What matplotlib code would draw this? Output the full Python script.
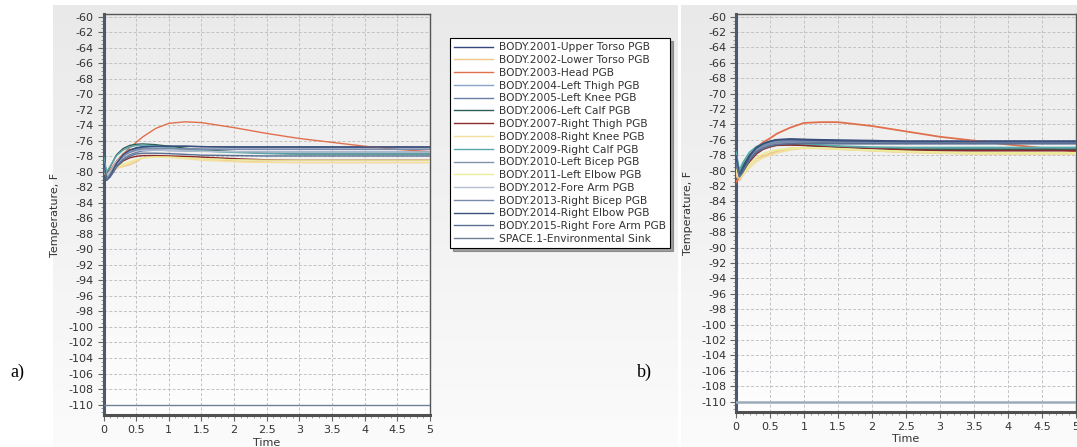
import numpy as np
import matplotlib.pyplot as plt
from matplotlib.ticker import MultipleLocator

plt.rcParams['axes.unicode_minus'] = False

# time grid
time = [0, 0.05, 0.1, 0.2, 0.3, 0.4, 0.5, 0.6, 0.8, 1.0, 1.25, 1.5, 2.0, 2.5, 3.0, 3.5, 4.0, 4.5, 5.0]

labels = ['BODY.2001-Upper Torso PGB', 'BODY.2002-Lower Torso PGB', 'BODY.2003-Head PGB',
          'BODY.2004-Left Thigh PGB', 'BODY.2005-Left Knee PGB', 'BODY.2006-Left Calf PGB',
          'BODY.2007-Right Thigh PGB', 'BODY.2008-Right Knee PGB', 'BODY.2009-Right Calf PGB',
          'BODY.2010-Left Bicep PGB', 'BODY.2011-Left Elbow PGB', 'BODY.2012-Fore Arm PGB',
          'BODY.2013-Right Bicep PGB', 'BODY.2014-Right Elbow PGB', 'BODY.2015-Right Fore Arm PGB',
          'SPACE.1-Environmental Sink']

colors = ['#34467a', '#f2c58a', '#e0704c', '#86a6c6', '#6a7fa2', '#2e5e58',
          '#8c2a2a', '#f3df9e', '#5aa8aa', '#8494ae', '#ecec9a', '#b4c0d4',
          '#7a8aaa', '#3a4f7c', '#5a6f92', '#7a8ca2']

#panel a) values
a_upper_torso = [-78.4, -80.7, -80.3, -78.8, -77.7, -77.2, -76.9, -76.75, -76.7, -76.7, -76.7, -76.75, -76.8, -76.8, -76.8, -76.8, -76.8, -76.8, -76.8]
a_lower_torso = [-79.8, -80.3, -80.0, -79.5, -79.3, -79.1, -78.7, -78.2, -78.0, -78.0, -78.1, -78.3, -78.6, -78.75, -78.8, -78.8, -78.8, -78.8, -78.8]
a_head = [-79.6, -80.5, -79.8, -78.6, -77.7, -76.9, -76.2, -75.5, -74.4, -73.75, -73.55, -73.65, -74.3, -75.05, -75.7, -76.2, -76.7, -77.1, -77.4]
a_left_thigh = [-78.8, -80.8, -80.4, -78.9, -77.9, -77.4, -77.1, -76.95, -76.9, -76.95, -77.0, -77.05, -77.1, -77.1, -77.1, -77.1, -77.1, -77.1, -77.1]
a_left_knee = [-79.2, -80.9, -80.6, -79.2, -78.3, -77.8, -77.5, -77.3, -77.2, -77.25, -77.3, -77.35, -77.4, -77.45, -77.45, -77.45, -77.45, -77.45, -77.45]
a_left_calf = [-78.2, -80.2, -79.4, -77.8, -77.0, -76.6, -76.45, -76.4, -76.5, -76.7, -76.95, -77.15, -77.4, -77.6, -77.7, -77.7, -77.7, -77.7, -77.7]
a_right_thigh = [-79.5, -81.0, -80.6, -79.4, -78.6, -78.2, -78.0, -77.9, -77.9, -77.95, -78.0, -78.1, -78.3, -78.45, -78.5, -78.5, -78.5, -78.5, -78.5]
a_right_knee = [-80.0, -80.6, -80.2, -79.6, -79.2, -78.9, -78.5, -78.2, -78.1, -78.15, -78.3, -78.5, -78.7, -78.8, -78.8, -78.8, -78.8, -78.8, -78.8]
a_right_calf = [-78.0, -80.0, -79.3, -77.9, -77.2, -76.8, -76.6, -76.55, -76.65, -76.85, -77.1, -77.3, -77.5, -77.65, -77.7, -77.7, -77.7, -77.7, -77.7]
a_left_bicep = [-78.9, -80.7, -80.2, -78.8, -77.9, -77.4, -77.1, -77.0, -77.0, -77.0, -77.05, -77.1, -77.1, -77.1, -77.1, -77.1, -77.1, -77.1, -77.1]
a_left_elbow = [-79.9, -80.4, -80.0, -79.4, -79.0, -78.7, -78.4, -78.2, -78.1, -78.1, -78.2, -78.3, -78.45, -78.5, -78.5, -78.5, -78.5, -78.5, -78.5]
a_fore_arm = [-79.0, -80.5, -80.0, -78.7, -77.9, -77.5, -77.3, -77.2, -77.2, -77.25, -77.3, -77.35, -77.4, -77.45, -77.45, -77.45, -77.45, -77.45, -77.45]
a_right_bicep = [-78.9, -80.8, -80.3, -78.9, -78.0, -77.5, -77.2, -77.05, -77.0, -77.0, -77.05, -77.1, -77.1, -77.1, -77.1, -77.1, -77.1, -77.1, -77.1]
a_right_elbow = [-78.6, -81.1, -80.6, -78.9, -77.8, -77.2, -76.95, -76.8, -76.7, -76.7, -76.7, -76.75, -76.8, -76.8, -76.8, -76.8, -76.8, -76.8, -76.8]
a_right_fore_arm = [-79.4, -81.0, -80.7, -79.4, -78.5, -78.0, -77.7, -77.6, -77.6, -77.65, -77.75, -77.85, -77.9, -77.95, -77.95, -77.95, -77.95, -77.95, -77.95]
a_sink = -110

#panel b) values
b_upper_torso = [-78.0, -80.4, -79.6, -78.0, -77.0, -76.5, -76.2, -76.0, -75.9, -75.95, -76.0, -76.05, -76.1, -76.2, -76.2, -76.2, -76.2, -76.2, -76.2]
b_lower_torso = [-80.6, -81.3, -80.5, -79.2, -78.4, -78.1, -77.8, -77.5, -77.1, -77.0, -77.1, -77.2, -77.4, -77.6, -77.7, -77.8, -77.8, -77.8, -77.8]
b_head = [-81.5, -80.8, -79.5, -78.0, -77.0, -76.3, -75.8, -75.2, -74.4, -73.8, -73.7, -73.7, -74.2, -74.9, -75.6, -76.1, -76.6, -77.05, -77.5]
b_left_thigh = [-78.4, -80.6, -79.8, -78.2, -77.2, -76.7, -76.4, -76.2, -76.1, -76.1, -76.15, -76.2, -76.25, -76.3, -76.3, -76.3, -76.3, -76.3, -76.3]
b_left_knee = [-78.8, -80.7, -80.0, -78.4, -77.4, -76.9, -76.6, -76.4, -76.3, -76.3, -76.3, -76.35, -76.35, -76.35, -76.35, -76.35, -76.35, -76.35, -76.35]
b_left_calf = [-78.2, -80.3, -79.4, -78.0, -77.2, -76.8, -76.6, -76.55, -76.6, -76.7, -76.85, -76.95, -77.1, -77.2, -77.2, -77.2, -77.2, -77.2, -77.2]
b_right_thigh = [-79.4, -80.8, -80.2, -78.8, -77.8, -77.2, -76.9, -76.7, -76.65, -76.7, -76.8, -76.9, -77.1, -77.3, -77.4, -77.4, -77.4, -77.4, -77.4]
b_right_knee = [-80.2, -81.0, -80.6, -79.6, -78.8, -78.3, -78.0, -77.7, -77.3, -77.1, -77.1, -77.2, -77.4, -77.6, -77.7, -77.8, -77.8, -77.8, -77.8]
b_right_calf = [-77.6, -80.0, -79.0, -77.6, -76.9, -76.5, -76.3, -76.3, -76.4, -76.5, -76.65, -76.8, -76.95, -77.0, -77.0, -77.0, -77.0, -77.0, -77.0]
b_left_bicep = [-78.6, -80.6, -79.9, -78.3, -77.3, -76.8, -76.5, -76.3, -76.2, -76.2, -76.2, -76.25, -76.3, -76.3, -76.3, -76.3, -76.3, -76.3, -76.3]
b_left_elbow = [-79.8, -80.8, -80.4, -79.2, -78.3, -77.8, -77.5, -77.3, -77.1, -77.0, -77.05, -77.15, -77.35, -77.5, -77.6, -77.7, -77.7, -77.7, -77.7]
b_fore_arm = [-78.9, -80.5, -79.9, -78.4, -77.4, -76.9, -76.6, -76.45, -76.35, -76.35, -76.4, -76.4, -76.4, -76.4, -76.4, -76.4, -76.4, -76.4, -76.4]
b_right_bicep = [-78.6, -80.7, -80.0, -78.4, -77.4, -76.85, -76.55, -76.35, -76.25, -76.25, -76.3, -76.3, -76.3, -76.3, -76.3, -76.3, -76.3, -76.3, -76.3]
b_right_elbow = [-78.1, -80.6, -79.8, -78.1, -77.0, -76.5, -76.2, -76.0, -75.95, -76.0, -76.05, -76.1, -76.15, -76.2, -76.2, -76.2, -76.2, -76.2, -76.2]
b_right_fore_arm = [-79.0, -80.8, -80.2, -78.6, -77.6, -77.1, -76.8, -76.6, -76.5, -76.45, -76.45, -76.5, -76.5, -76.5, -76.5, -76.5, -76.5, -76.5, -76.5]
b_sink = -110

series_a = [a_upper_torso, a_lower_torso, a_head, a_left_thigh, a_left_knee, a_left_calf,
            a_right_thigh, a_right_knee, a_right_calf, a_left_bicep, a_left_elbow, a_fore_arm,
            a_right_bicep, a_right_elbow, a_right_fore_arm]
series_b = [b_upper_torso, b_lower_torso, b_head, b_left_thigh, b_left_knee, b_left_calf,
            b_right_thigh, b_right_knee, b_right_calf, b_left_bicep, b_left_elbow, b_fore_arm,
            b_right_bicep, b_right_elbow, b_right_fore_arm]

W, H = 1077, 447
fig = plt.figure(figsize=(W / 100, H / 100), dpi=100)
fig.patch.set_facecolor('white')

#window backgrounds (gray fading to white)
bg = fig.add_axes([0, 0, 1, 1], zorder=-5)
bg.axis('off')
grad = np.linspace(0.915, 0.985, 100).reshape(-1, 1)
grad = np.dstack([grad, grad, grad])
bg.imshow(grad, extent=(53, 678, H, 5), aspect='auto')
bg.imshow(grad, extent=(681, W, H, 5), aspect='auto')
bg.set_xlim(0, W)
bg.set_ylim(H, 0)

plot_grad = np.linspace(0.92, 0.995, 100).reshape(-1, 1)
plot_grad = np.clip(np.dstack([plot_grad, plot_grad, plot_grad + 0.004]), 0, 1)


def px_rect(x0, x1, y0, y1):
    return [x0 / W, 1 - y1 / H, (x1 - x0) / W, (y1 - y0) / H]


def draw_panel(ax, series, sink, lw, sink_lw, sink_color):
    ax.imshow(plot_grad, extent=(0, 1, 0, 1), transform=ax.transAxes, aspect='auto', zorder=0)
    for vals, c in zip(series, colors[:-1]):
        ax.plot(time, vals, color=c, lw=lw, zorder=3)
    ax.axhline(sink, color=sink_color, lw=sink_lw, zorder=3)
    ax.set_xlim(0, 5)
    ax.set_ylim(-111.35, -59.65)
    ax.xaxis.set_major_locator(MultipleLocator(0.5))
    ax.xaxis.set_minor_locator(MultipleLocator(0.1))
    ax.yaxis.set_major_locator(MultipleLocator(2))
    ax.yaxis.set_minor_locator(MultipleLocator(0.5))
    ticks = np.arange(0, 5.01, 0.5)
    ax.set_xticks(ticks)
    ax.set_xticklabels(['%g' % t for t in ticks])
    ax.grid(True, which='major', color='#c2c2c2', linestyle=(0, (3, 2)), lw=0.7, zorder=1)
    ax.tick_params(which='major', direction='out', length=4, width=0.8, color='#666666',
                   labelsize=8, labelcolor='#333333', pad=3)
    ax.tick_params(which='minor', direction='out', length=2, width=0.6, color='#888888')
    for side in ['top', 'right']:
        ax.spines[side].set_color('#555555')
        ax.spines[side].set_linewidth(1.0)
    ax.spines['left'].set_color('#4a5870')
    ax.spines['left'].set_linewidth(2.2)
    ax.spines['bottom'].set_color('#505050')
    ax.spines['bottom'].set_linewidth(2.2)
    ax.set_xlabel('Time', fontsize=8, color='#333333', labelpad=2)
    ax.set_ylabel('Temperature, F', fontsize=8, color='#333333', labelpad=6)


ax1 = fig.add_axes(px_rect(103.5, 430, 14, 415))
draw_panel(ax1, series_a, a_sink, 1.0, 1.0, '#6f8196')

ax2 = fig.add_axes(px_rect(736, 1076, 14, 412))
draw_panel(ax2, series_b, b_sink, 1.3, 1.8, '#9aabb9')

#legend between the panels
handles = ax1.get_lines()
leg = fig.legend(handles, labels, loc='upper left', bbox_to_anchor=(450 / W, 1 - 38 / H),
                 frameon=True, fancybox=False, shadow=True, edgecolor='black', framealpha=1,
                 fontsize=7.7, handlelength=3.6, borderpad=0.4, labelspacing=0.26,
                 handletextpad=0.6, borderaxespad=0)
leg.get_frame().set_linewidth(0.8)
for t in leg.get_texts():
    t.set_color('#333333')
for l in leg.get_lines():
    l.set_linewidth(1.0)

fig.text(10 / W, 1 - 372 / H, 'a)', fontsize=13, family='Liberation Serif', va='center')
fig.text(637 / W, 1 - 372 / H, 'b)', fontsize=13, family='Liberation Serif', va='center')

plt.savefig('out.png', dpi=100)
